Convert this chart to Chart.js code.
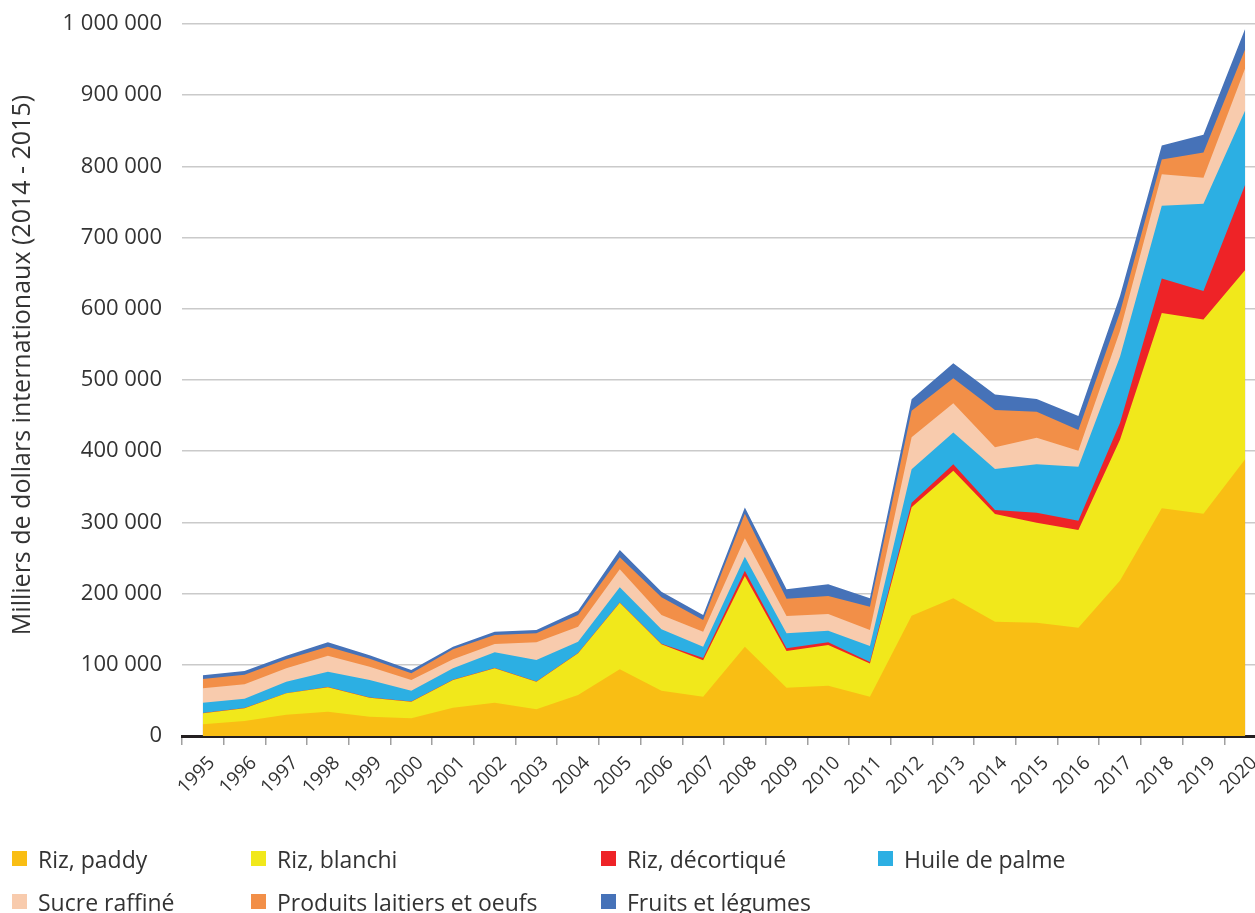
<!DOCTYPE html>
<html lang="fr">
<head>
<meta charset="utf-8">
<title>Importations</title>
<script src="https://cdn.jsdelivr.net/npm/chart.js@4.4.1/dist/chart.umd.min.js"></script>
<style>
  html, body { margin: 0; padding: 0; background: #fff; overflow: hidden; }
  #wrap { position: relative; width: 1268px; height: 913px; }
  #chart { display: block; }
  .leg { position: absolute; font: 23px "Open Sans", sans-serif; color: #333; white-space: nowrap; line-height: 30px; }
  .leg i { position: absolute; left: 0; top: 7px; width: 15px; height: 15px; }
  .leg span { margin-left: 26px; }
</style>
</head>
<body>
<div id="wrap">
  <canvas id="chart" width="1268" height="913"></canvas>
</div>
<script>
// Années (axe X)
var years = ['1995', '1996', '1997', '1998', '1999', '2000', '2001', '2002', '2003', '2004', '2005', '2006', '2007',
  '2008', '2009', '2010', '2011', '2012', '2013', '2014', '2015', '2016', '2017', '2018', '2019', '2020'];

// Séries (milliers de dollars internationaux)
var rizPaddy = [16400, 21000, 29900, 34100, 27100, 24800, 39800, 46800, 37500, 57600, 93600, 63600, 55200,
  125400, 67900, 70700, 55200, 169000, 193400, 160500, 159100, 152100, 218400, 320000, 312100, 388800];
var rizBlanchi = [15500, 17900, 30000, 34300, 26700, 23400, 38800, 48200, 38800, 58500, 93600, 65200, 51300,
  99300, 51500, 57100, 46800, 152200, 179200, 151300, 140500, 137200, 198000, 274100, 272800, 265600];
var rizDecortique = [300, 300, 300, 300, 300, 300, 400, 500, 400, 400, 400, 700, 3000,
  7500, 3700, 3800, 2000, 6500, 9000, 5600, 14000, 13100, 23600, 48500, 40000, 120000];
var huilePalme = [14600, 13200, 16100, 21600, 24500, 15100, 16000, 22000, 30000, 15900, 21200, 20300, 15900,
  19700, 21100, 16300, 22400, 46900, 44500, 57600, 68000, 75800, 93100, 102300, 122600, 104200];
var sucreRaffine = [20200, 20200, 18700, 22500, 18700, 15000, 12700, 11700, 24900, 21100, 25300, 20100, 21100,
  25800, 24300, 23400, 22500, 44900, 41200, 30500, 37400, 22400, 36000, 43900, 36700, 59100];
var produitsLaitiers = [13000, 13500, 12700, 12600, 11200, 9400, 14000, 12600, 12600, 16400, 16800, 24800, 16400,
  34300, 24400, 25300, 32700, 37400, 35100, 52400, 36500, 29200, 26300, 21000, 35400, 26800];
var fruitsLegumes = [5200, 5200, 5100, 6200, 5000, 4700, 3700, 4700, 4700, 6100, 10300, 8000, 7000,
  9000, 13100, 16400, 11800, 16000, 21000, 21900, 17800, 19700, 22900, 19700, 24900, 28900];

var yTicks = [0, 100000, 200000, 300000, 400000, 500000, 600000, 700000, 800000, 900000, 1000000];
var yTitle = 'Milliers de dollars internationaux (2014 - 2015)';

var series = [
  { label: 'Riz, paddy', data: rizPaddy, color: '#F9BE14' },
  { label: 'Riz, blanchi', data: rizBlanchi, color: '#F1E81B' },
  { label: 'Riz, décortiqué', data: rizDecortique, color: '#EE2327' },
  { label: 'Huile de palme', data: huilePalme, color: '#2CAFE3' },
  { label: 'Sucre raffiné', data: sucreRaffine, color: '#F8CBAD' },
  { label: 'Produits laitiers et oeufs', data: produitsLaitiers, color: '#F28F48' },
  { label: 'Fruits et légumes', data: fruitsLegumes, color: '#4672B8' }
];

function formatNombre(v) {
  return String(v).replace(/\B(?=(\d{3})+(?!\d))/g, ' ');
}

// titre vertical de l'axe Y, un peu au-dessus du centre comme l'original
var yTitlePlugin = {
  id: 'yTitle',
  afterDraw: function (chart) {
    var c = chart.ctx;
    var area = chart.chartArea;
    c.save();
    c.translate(23, (area.top + area.bottom) / 2 - 15);
    c.rotate(-Math.PI / 2);
    c.font = '25px "Open Sans"';
    c.fillStyle = '#333';
    c.textAlign = 'center';
    c.textBaseline = 'middle';
    c.fillText(yTitle, 0, 0);
    c.restore();
  }
};

var ctx = document.getElementById('chart').getContext('2d');
var chart = new Chart(ctx, {
  type: 'line',
  data: {
    labels: years,
    datasets: series.map(function (s) {
      return {
        label: s.label,
        data: s.data,
        backgroundColor: s.color,
        borderColor: s.color,
        borderWidth: 0,
        pointRadius: 0,
        tension: 0,
        fill: 'origin'
      };
    })
  },
  plugins: [yTitlePlugin],
  options: {
    responsive: false,
    animation: false,
    layout: { padding: { top: 24, right: 2, bottom: 77, left: 0 } },
    plugins: { legend: { display: false }, tooltip: { enabled: false } },
    scales: {
      x: {
        offset: true,
        grid: { offset: true, drawOnChartArea: false, drawTicks: true, tickLength: 9, color: '#a0a0a0', lineWidth: 1.5 },
        border: { display: true, color: '#231f20', width: 3 },
        ticks: {
          autoSkip: false, maxRotation: 45, minRotation: 45, padding: 7, labelOffset: 9,
          color: '#333', font: { family: 'Open Sans', size: 19 }
        },
        afterFit: function (scale) {
          scale.height = 100;
          scale.paddingLeft = 0;
          scale.paddingRight = 0;
        }
      },
      y: {
        stacked: true,
        min: 0,
        max: 1000000,
        afterBuildTicks: function (scale) {
          scale.ticks = yTicks.map(function (v) { return { value: v }; });
        },
        grid: { color: '#cacaca', lineWidth: 1.5, drawTicks: false },
        border: { display: false },
        ticks: {
          padding: 20, color: '#333', font: { family: 'Open Sans', size: 22 },
          callback: function (v) { return formatNombre(v); }
        },
        afterFit: function (scale) {
          scale.width = 182;
          scale.paddingTop = 0;
          scale.paddingBottom = 0;
        }
      }
    }
  }
});

// Légende en HTML, 4 colonnes sur 2 lignes
var legendCols = [12, 251, 601, 878];
var legendRows = [844, 887];
var wrap = document.getElementById('wrap');
chart.data.datasets.forEach(function (ds, i) {
  var el = document.createElement('div');
  el.className = 'leg';
  el.style.left = legendCols[i % 4] + 'px';
  el.style.top = legendRows[Math.floor(i / 4)] + 'px';
  el.innerHTML = '<i style="background:' + ds.backgroundColor + '"></i><span>' + ds.label + '</span>';
  wrap.appendChild(el);
});
</script>
</body>
</html>
